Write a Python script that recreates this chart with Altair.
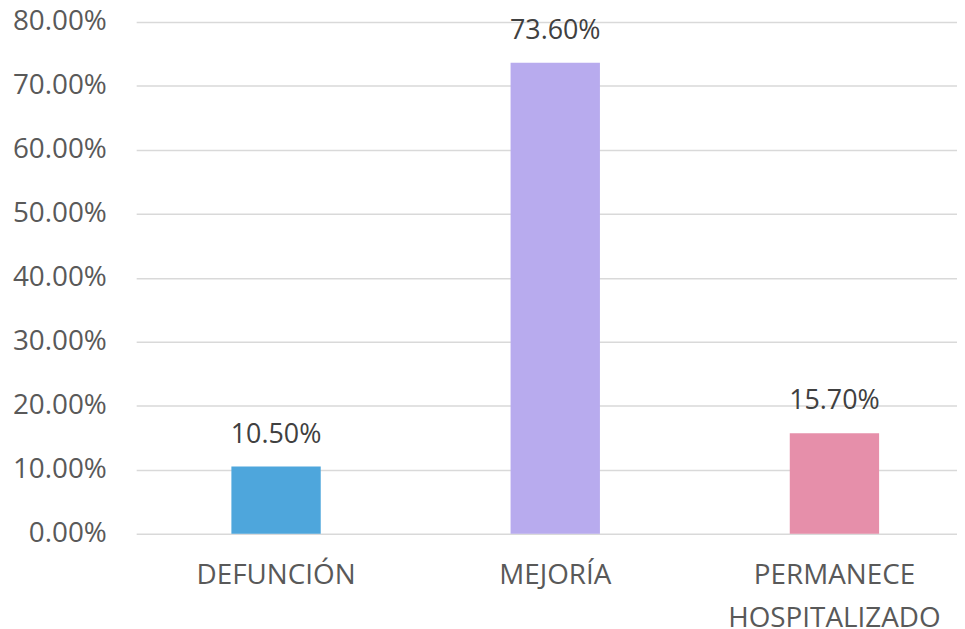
import altair as alt
import pandas as pd

categories = ["DEFUNCIÓN", "MEJORÍA", "PERMANECE HOSPITALIZADO"]
values = [0.105, 0.736, 0.157]
colors = ["#4EA6DC", "#B8ABEE", "#E68FAA"]

df = pd.DataFrame({"cat": categories, "val": values, "col": colors})

FONT = "Open Sans"

x = alt.X(
    "cat:N",
    sort=categories,
    title=None,
    scale=alt.Scale(paddingInner=0.68, paddingOuter=0.31, align=0.55),
    axis=alt.Axis(
        labelAngle=0,
        labelFont=FONT,
        labelFontSize=28,
        labelColor="#595959",
        labelPadding=28,
        labelLineHeight=43,
        labelBaseline="top",
        labelLimit=0,
        ticks=False,
        domain=False,
        grid=False,
        labelExpr="indexof(datum.label, ' ') > 0 ? split(datum.label, ' ') : datum.label",
    ),
)

y = alt.Y(
    "val:Q",
    title=None,
    scale=alt.Scale(domain=[0, 0.8], nice=False),
    axis=alt.Axis(
        format=".2%",
        values=[i / 10 for i in range(9)],
        labelFont=FONT,
        labelFontSize=28,
        labelColor="#595959",
        labelPadding=30,
        ticks=False,
        domain=False,
        gridColor="#d9d9d9",
        gridWidth=1.5,
    ),
)

base = alt.Chart(df).encode(x=x, y=y)

bars = base.mark_bar().encode(color=alt.Color("col:N", scale=None))

labels = base.mark_text(
    baseline="bottom", dy=-18, font=FONT, fontSize=27, color="#404040"
).encode(text=alt.Text("val:Q", format=".2%"))

chart = (
    alt.layer(bars, labels)
    .properties(
        width=826,
        height=515,
        autosize=alt.AutoSizeParams(type="none"),
        padding={"left": 129, "top": 12, "right": 0, "bottom": 100},
        view=alt.ViewBackground(stroke="transparent", strokeWidth=0),
    )
    .configure_view(stroke="transparent", strokeWidth=0)
    .configure_axis(domain=False, ticks=False)
    .configure_axisBand(grid=False)
    .configure(background="white")
)

chart.save("out.html", embed_options={"renderer": "svg", "actions": False})
